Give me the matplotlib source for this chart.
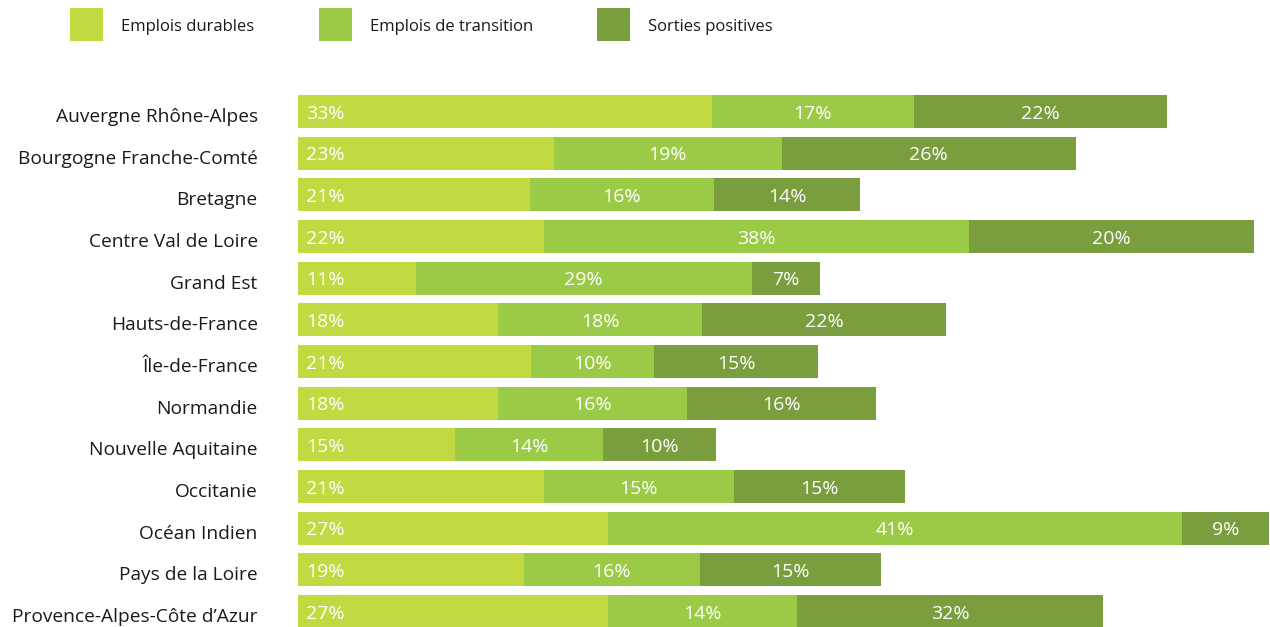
import matplotlib
matplotlib.use("Agg")
import matplotlib.pyplot as plt
import matplotlib.transforms as mtransforms
from matplotlib.patches import Rectangle

# regions, top to bottom
regions = ["Auvergne Rhône-Alpes", "Bourgogne Franche-Comté", "Bretagne",
           "Centre Val de Loire", "Grand Est", "Hauts-de-France", "Île-de-France",
           "Normandie", "Nouvelle Aquitaine", "Occitanie", "Océan Indien",
           "Pays de la Loire", "Provence-Alpes-Côte d’Azur"]

series = ["Emplois durables", "Emplois de transition", "Sorties positives"]

# bar lengths as drawn (the source chart is not drawn to scale with its labels)
durables = [34.5, 21.3, 19.3, 20.5, 9.8, 16.7, 19.4, 16.7, 13.1, 20.5, 25.8, 18.8, 25.8]
transition = [16.8, 19.0, 15.4, 35.4, 28.0, 17.0, 10.3, 15.7, 12.3, 15.8, 47.9, 14.7, 15.8]
sorties = [21.1, 24.5, 12.1, 23.8, 5.7, 20.3, 13.6, 15.8, 9.4, 14.3, 7.2, 15.1, 25.5]

# printed labels
lab_durables = [33, 23, 21, 22, 11, 18, 21, 18, 15, 21, 27, 19, 27]
lab_transition = [17, 19, 16, 38, 29, 18, 10, 16, 14, 15, 41, 16, 14]
lab_sorties = [22, 26, 14, 20, 7, 22, 15, 16, 10, 15, 9, 15, 32]

colors = ["#C2D941", "#9BCA47", "#7A9E3E"]

plt.rcParams['font.family'] = ['Open Sans', 'DejaVu Sans']

fig = plt.figure(figsize=(12.7, 6.27), dpi=100)
ax = fig.add_axes([298/1270, -0.00846, 972/1270, 0.8638])

y = list(range(len(regions)))
h = 0.79
left = [0]*len(regions)
vals = [durables, transition, sorties]
labs = [lab_durables, lab_transition, lab_sorties]
for k in range(3):
    ax.barh(y, vals[k], left=left, height=h, color=colors[k], linewidth=0)
    for i in y:
        if k == 0:
            ax.text(left[i] + 0.7, i + 0.05, str(labs[k][i]) + "%", color="white",
                    ha="left", va="center", fontsize=14)
        else:
            ax.text(left[i] + vals[k][i]/2, i + 0.05, str(labs[k][i]) + "%", color="white",
                    ha="center", va="center", fontsize=14)
    left = [left[i] + vals[k][i] for i in y]

ax.set_xlim(0, 81)
ax.set_ylim(len(regions) - 0.5, -0.5)
ax.set_yticks(y)
ax.set_yticklabels(regions, fontsize=13.8, color="#1a1a1a")
ax.tick_params(axis="y", length=0, pad=29)
shift = mtransforms.ScaledTranslation(0, -2.5/72, fig.dpi_scale_trans)
for t in ax.get_yticklabels():
    t.set_transform(t.get_transform() + shift)
ax.set_xticks([])
for s in ax.spines.values():
    s.set_visible(False)

# legend drawn by hand at the top
leg_x = [70, 319, 597]
for k in range(3):
    fig.patches.append(Rectangle((leg_x[k]/1270, 1 - 41/627), 33/1270, 33/627,
                                 transform=fig.transFigure, color=colors[k], lw=0))
    fig.text((leg_x[k] + 51)/1270, 1 - 27/627, series[k], fontsize=12,
             ha="left", va="center", color="#1a1a1a")

fig.savefig("out.png", dpi=100)
